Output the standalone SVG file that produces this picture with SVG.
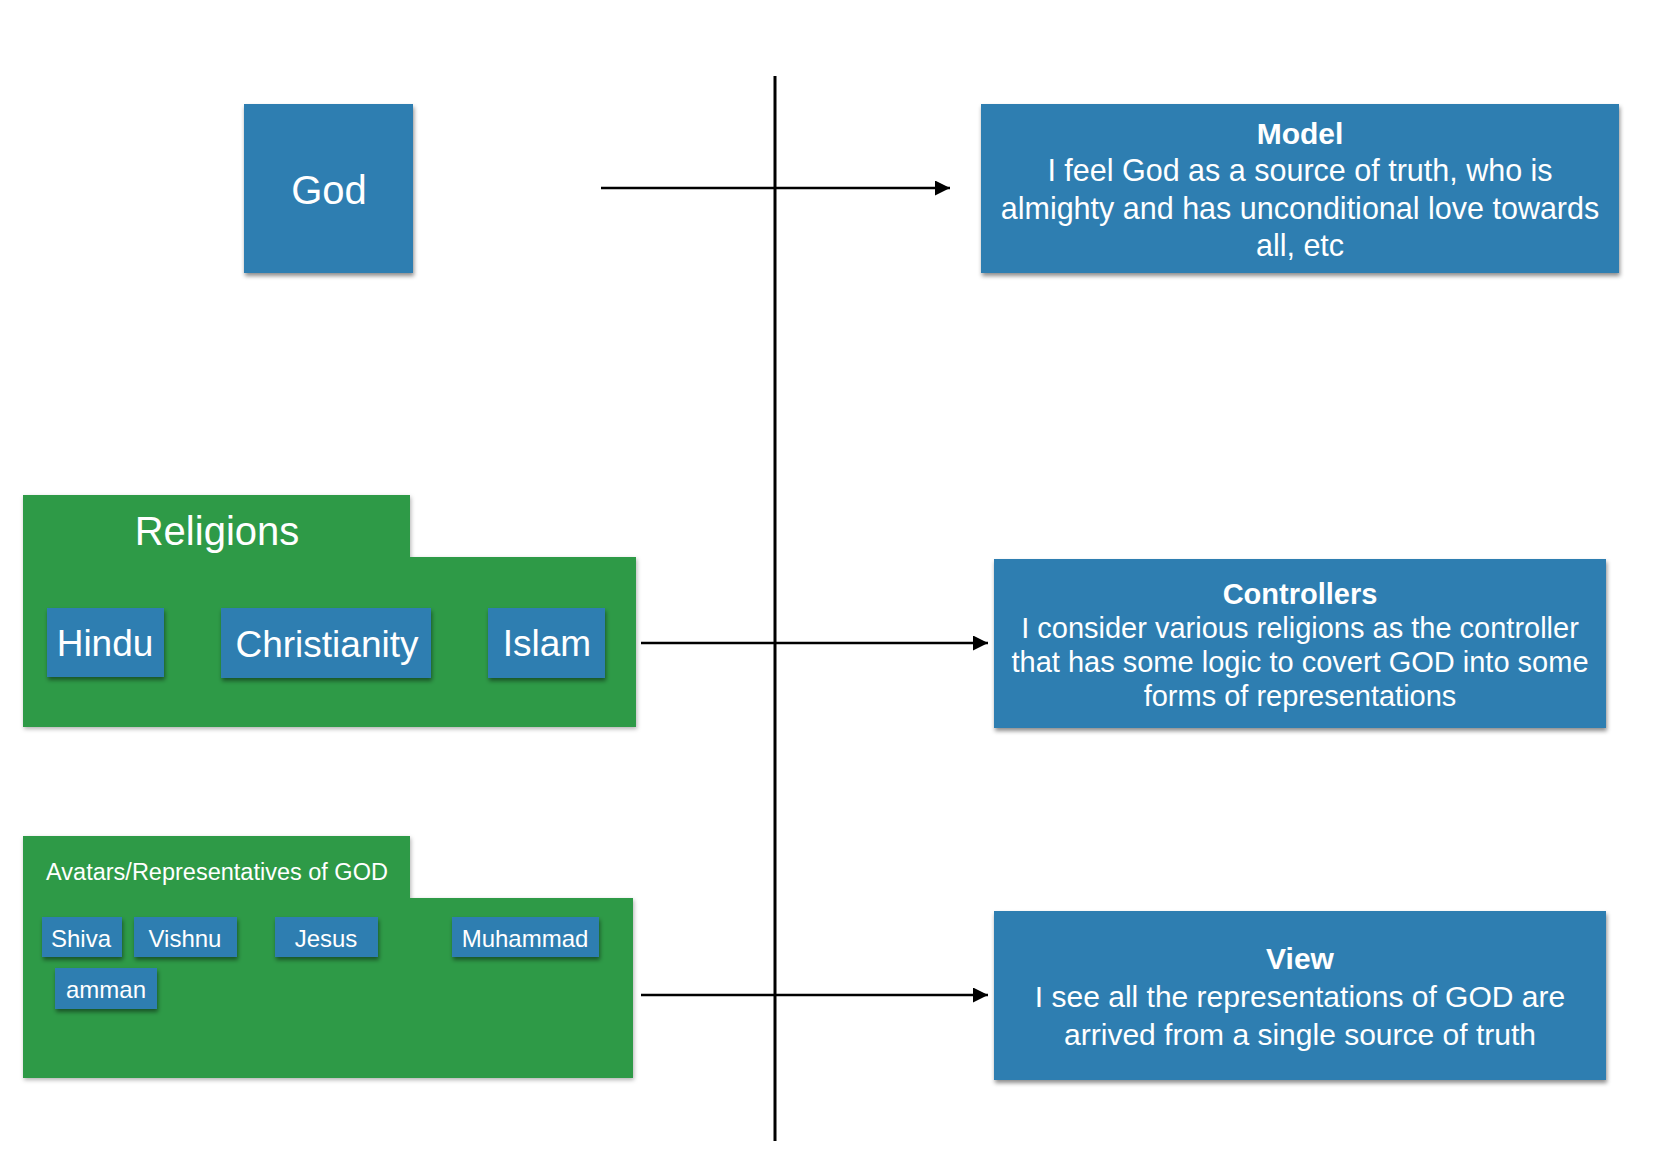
<svg xmlns="http://www.w3.org/2000/svg" width="1658" height="1162" viewBox="0 0 1658 1162">
<style>
.blue{fill:#2f7eb1;filter:url(#sh)}
.green{fill:#2f9a46;filter:url(#sh2)}
text{font-family:"Liberation Sans",Arial,sans-serif;fill:#ffffff;text-anchor:middle}
.b{font-weight:bold}
.conn{stroke:#000;stroke-width:2.5;fill:none}
</style>
<defs>
<filter id="sh" x="-10%" y="-10%" width="120%" height="130%">
<feDropShadow dx="1" dy="3" stdDeviation="2" flood-color="#000" flood-opacity="0.45"/>
</filter>
<filter id="sh2" x="-10%" y="-10%" width="120%" height="130%">
<feDropShadow dx="1" dy="2" stdDeviation="2" flood-color="#000" flood-opacity="0.3"/>
</filter>
<marker id="arr" viewBox="0 0 10 10" refX="10" refY="5" markerWidth="7" markerHeight="6" markerUnits="strokeWidth" orient="auto">
<path d="M0,0 L10,5 L0,10 Z" fill="#000"/>
</marker>
</defs>

<g id="connectors">
<line x1="775" y1="76" x2="775" y2="1141" stroke="#000" stroke-width="3"/>
<line class="conn" x1="601" y1="188" x2="950" y2="188" marker-end="url(#arr)"/>
<line class="conn" x1="641" y1="643" x2="988" y2="643" marker-end="url(#arr)"/>
<line class="conn" x1="641" y1="995" x2="988" y2="995" marker-end="url(#arr)"/>
</g>

<g id="god">
<rect class="blue" x="244" y="104" width="169" height="169"/>
<text x="329" y="204" font-size="40">God</text>
</g>

<g id="model">
<rect class="blue" x="981" y="104" width="638" height="169"/>
<text class="b" x="1300" y="144" font-size="30">Model</text>
<text x="1300" y="181" font-size="30.5">I feel God as a source of truth, who is</text>
<text x="1300" y="219" font-size="30.5">almighty and has unconditional love towards</text>
<text x="1300" y="256" font-size="30.5">all, etc</text>
</g>

<g id="religions">
<path class="green" d="M23,495 H410 V557 H636 V727 H23 Z"/>
<text x="217" y="545" font-size="40">Religions</text>
</g>
<g id="hindu">
<rect class="blue" x="47" y="608" width="117" height="69"/>
<text x="105" y="656" font-size="37">Hindu</text>
</g>
<g id="christianity">
<rect class="blue" x="221" y="608" width="210" height="70"/>
<text x="327" y="657" font-size="37">Christianity</text>
</g>
<g id="islam">
<rect class="blue" x="488" y="608" width="117" height="70"/>
<text x="547" y="656" font-size="37">Islam</text>
</g>

<g id="controllers">
<rect class="blue" x="994" y="559" width="612" height="169"/>
<text class="b" x="1300" y="604" font-size="29">Controllers</text>
<text x="1300" y="638" font-size="29">I consider various religions as the controller</text>
<text x="1300" y="672" font-size="29">that has some logic to covert GOD into some</text>
<text x="1300" y="706" font-size="29">forms of representations</text>
</g>

<g id="avatars">
<path class="green" d="M23,836 H410 V898 H633 V1078 H23 Z"/>
<text x="217" y="880" font-size="23.5">Avatars/Representatives of GOD</text>
</g>
<g id="shiva">
<rect class="blue" x="42" y="917" width="80" height="40"/>
<text x="81" y="947" font-size="24">Shiva</text>
</g>
<g id="vishnu">
<rect class="blue" x="134" y="917" width="103" height="40"/>
<text x="185" y="947" font-size="24">Vishnu</text>
</g>
<g id="jesus">
<rect class="blue" x="275" y="917" width="103" height="40"/>
<text x="326" y="947" font-size="24">Jesus</text>
</g>
<g id="muhammad">
<rect class="blue" x="452" y="917" width="147" height="40"/>
<text x="525" y="947" font-size="24">Muhammad</text>
</g>
<g id="amman">
<rect class="blue" x="55" y="968" width="102" height="41"/>
<text x="106" y="998" font-size="24">amman</text>
</g>

<g id="view">
<rect class="blue" x="994" y="911" width="612" height="169"/>
<text class="b" x="1300" y="969" font-size="30">View</text>
<text x="1300" y="1007" font-size="30">I see all the representations of GOD are</text>
<text x="1300" y="1045" font-size="30">arrived from a single source of truth</text>
</g>
</svg>
